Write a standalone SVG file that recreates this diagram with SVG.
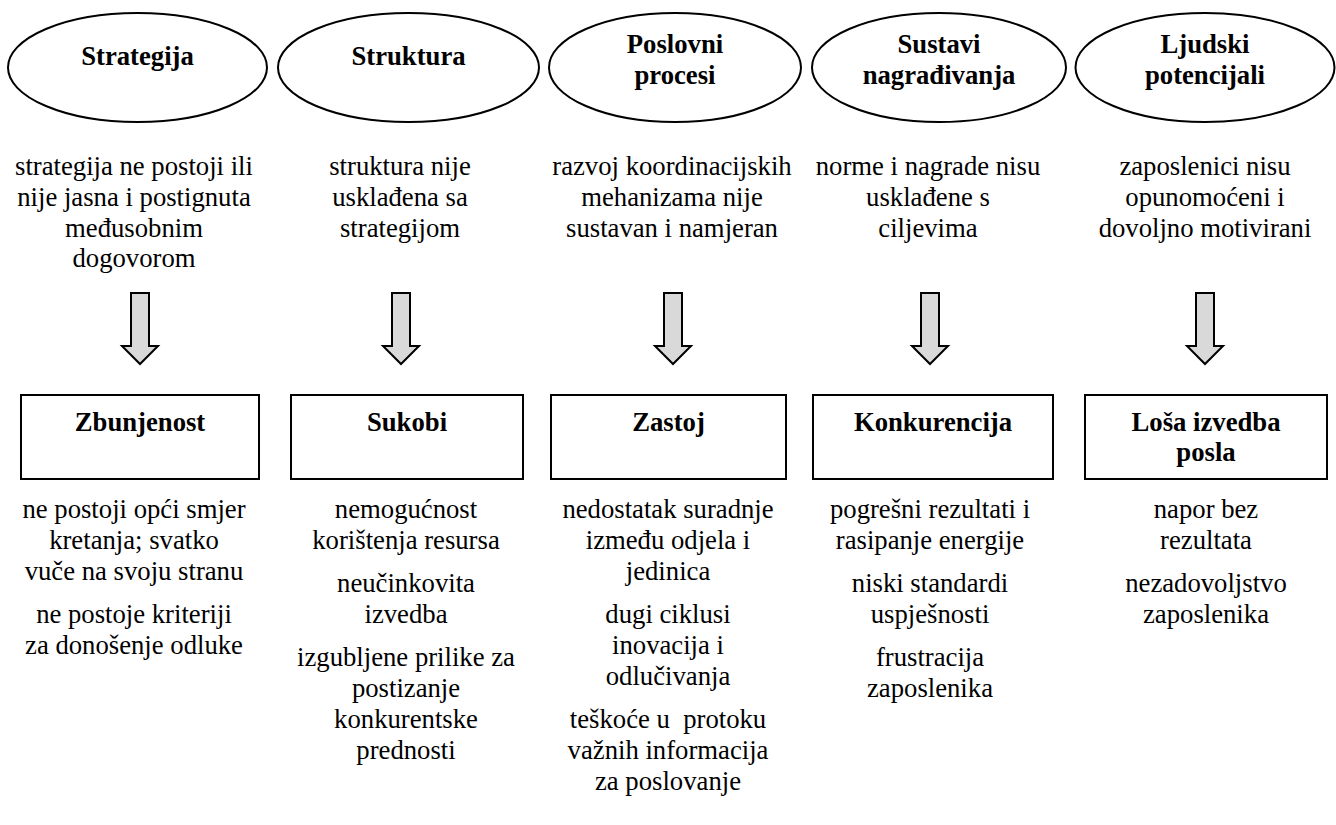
<svg xmlns="http://www.w3.org/2000/svg" width="1336" height="825" viewBox="0 0 1336 825">
  <defs>
    <style>
      .shape { fill: #ffffff; stroke: #000000; stroke-width: 2; }
      .arrow { fill: #d9d9d9; stroke: #000000; stroke-width: 2; stroke-linejoin: miter; }
      .title { font-family: "Liberation Serif", "Times New Roman", serif; font-size: 26.7px; font-weight: bold; fill: #000000; text-anchor: middle; }
      .body { font-family: "Liberation Serif", "Times New Roman", serif; font-size: 26.7px; fill: #000000; text-anchor: middle; }
    </style>
    <!-- block arrow pointing down, origin at the tip -->
    <path id="blockArrow" d="M -9 -71 L 9 -71 L 9 -18 L 18 -18 L 0 0 L -18 -18 L -9 -18 Z"/>
  </defs>

  <rect width="1336" height="825" fill="#ffffff"/>

  <!-- top row: organisational areas -->
  <g id="strategija">
    <ellipse class="shape" cx="137.5" cy="67.5" rx="129.5" ry="54.5"/>
    <text class="title" x="137.5" y="65">Strategija</text>
  </g>
  <g id="struktura">
    <ellipse class="shape" cx="408.5" cy="67.5" rx="130.5" ry="54.5"/>
    <text class="title" x="408.5" y="65">Struktura</text>
  </g>
  <g id="poslovni-procesi">
    <ellipse class="shape" cx="675" cy="67.5" rx="126" ry="54.5"/>
    <text class="title" x="675" y="53">Poslovni</text>
    <text class="title" x="675" y="84">procesi</text>
  </g>
  <g id="sustavi-nagradivanja">
    <ellipse class="shape" cx="939" cy="67.5" rx="127" ry="54.5"/>
    <text class="title" x="939" y="53">Sustavi</text>
    <text class="title" x="939" y="84">nagrađivanja</text>
  </g>
  <g id="ljudski-potencijali">
    <ellipse class="shape" cx="1205" cy="67.5" rx="129.5" ry="54.5"/>
    <text class="title" x="1205" y="53">Ljudski</text>
    <text class="title" x="1205" y="84">potencijali</text>
  </g>

  <!-- causes under each area -->
  <g id="uzrok-strategija">
    <text class="body" x="134" y="175">strategija ne postoji ili</text>
    <text class="body" x="134" y="206">nije jasna i postignuta</text>
    <text class="body" x="134" y="237">međusobnim</text>
    <text class="body" x="134" y="267">dogovorom</text>
  </g>
  <g id="uzrok-struktura">
    <text class="body" x="400" y="175">struktura nije</text>
    <text class="body" x="400" y="206">usklađena sa</text>
    <text class="body" x="400" y="237">strategijom</text>
  </g>
  <g id="uzrok-procesi">
    <text class="body" x="672" y="175">razvoj koordinacijskih</text>
    <text class="body" x="672" y="206">mehanizama nije</text>
    <text class="body" x="672" y="237">sustavan i namjeran</text>
  </g>
  <g id="uzrok-nagradivanje">
    <text class="body" x="928" y="175">norme i nagrade nisu</text>
    <text class="body" x="928" y="206">usklađene s</text>
    <text class="body" x="928" y="237">ciljevima</text>
  </g>
  <g id="uzrok-potencijali">
    <text class="body" x="1205" y="175">zaposlenici nisu</text>
    <text class="body" x="1205" y="206">opunomoćeni i</text>
    <text class="body" x="1205" y="237">dovoljno motivirani</text>
  </g>

  <!-- block arrows from causes to consequences -->
  <g id="connectors">
    <use href="#blockArrow" class="arrow" transform="translate(140 364)"/>
    <use href="#blockArrow" class="arrow" transform="translate(401 364)"/>
    <use href="#blockArrow" class="arrow" transform="translate(673 364)"/>
    <use href="#blockArrow" class="arrow" transform="translate(930 364)"/>
    <use href="#blockArrow" class="arrow" transform="translate(1205 364)"/>
  </g>

  <!-- bottom row: consequences -->
  <g id="zbunjenost">
    <rect class="shape" x="21" y="395" width="238" height="84"/>
    <text class="title" x="140" y="431">Zbunjenost</text>
  </g>
  <g id="sukobi">
    <rect class="shape" x="291" y="395" width="232" height="84"/>
    <text class="title" x="407" y="431">Sukobi</text>
  </g>
  <g id="zastoj">
    <rect class="shape" x="551" y="395" width="235" height="84"/>
    <text class="title" x="668.5" y="431">Zastoj</text>
  </g>
  <g id="konkurencija">
    <rect class="shape" x="813" y="395" width="240" height="84"/>
    <text class="title" x="933" y="431">Konkurencija</text>
  </g>
  <g id="losa-izvedba">
    <rect class="shape" x="1085" y="395" width="242" height="84"/>
    <text class="title" x="1206" y="431">Loša izvedba</text>
    <text class="title" x="1206" y="461">posla</text>
  </g>

  <!-- effects listed under each consequence -->
  <g id="posljedice-zbunjenost">
    <text class="body" x="134" y="518">ne postoji opći smjer</text>
    <text class="body" x="134" y="549">kretanja; svatko</text>
    <text class="body" x="134" y="580">vuče na svoju stranu</text>
    <text class="body" x="134" y="623">ne postoje kriteriji</text>
    <text class="body" x="134" y="654">za donošenje odluke</text>
  </g>
  <g id="posljedice-sukobi">
    <text class="body" x="406" y="518">nemogućnost</text>
    <text class="body" x="406" y="549">korištenja resursa</text>
    <text class="body" x="406" y="592">neučinkovita</text>
    <text class="body" x="406" y="623">izvedba</text>
    <text class="body" x="406" y="666">izgubljene prilike za</text>
    <text class="body" x="406" y="697">postizanje</text>
    <text class="body" x="406" y="728">konkurentske</text>
    <text class="body" x="406" y="759">prednosti</text>
  </g>
  <g id="posljedice-zastoj">
    <text class="body" x="668" y="518">nedostatak suradnje</text>
    <text class="body" x="668" y="549">između odjela i</text>
    <text class="body" x="668" y="580">jedinica</text>
    <text class="body" x="668" y="623">dugi ciklusi</text>
    <text class="body" x="668" y="654">inovacija i</text>
    <text class="body" x="668" y="685">odlučivanja</text>
    <text class="body" x="668" y="728" xml:space="preserve">teškoće u  protoku</text>
    <text class="body" x="668" y="759">važnih informacija</text>
    <text class="body" x="668" y="790">za poslovanje</text>
  </g>
  <g id="posljedice-konkurencija">
    <text class="body" x="930" y="518">pogrešni rezultati i</text>
    <text class="body" x="930" y="549">rasipanje energije</text>
    <text class="body" x="930" y="592">niski standardi</text>
    <text class="body" x="930" y="623">uspješnosti</text>
    <text class="body" x="930" y="666">frustracija</text>
    <text class="body" x="930" y="697">zaposlenika</text>
  </g>
  <g id="posljedice-losa-izvedba">
    <text class="body" x="1206" y="518">napor bez</text>
    <text class="body" x="1206" y="549">rezultata</text>
    <text class="body" x="1206" y="592">nezadovoljstvo</text>
    <text class="body" x="1206" y="623">zaposlenika</text>
  </g>
</svg>
